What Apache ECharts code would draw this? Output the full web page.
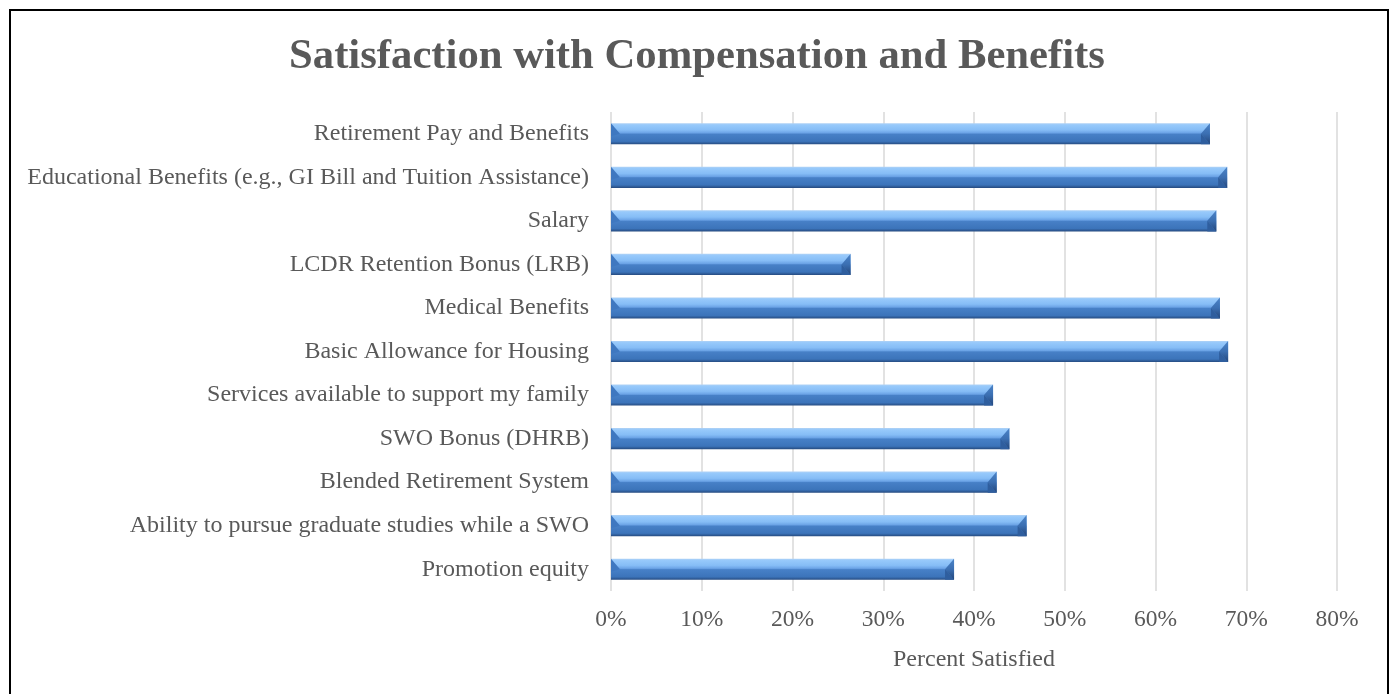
<!DOCTYPE html>
<html>
<head>
<meta charset="utf-8">
<script src="https://cdn.jsdelivr.net/npm/echarts@6/dist/echarts.min.js"></script>
<style>
html,body{margin:0;padding:0;background:#fff;}
#chart{width:1394px;height:694px;}
</style>
</head>
<body>
<div id="chart"></div>
<script>
const categories = [
  "Retirement Pay and Benefits",
  "Educational Benefits (e.g., GI Bill and Tuition Assistance)",
  "Salary",
  "LCDR Retention Bonus (LRB)",
  "Medical Benefits",
  "Basic Allowance for Housing",
  "Services available to support my family",
  "SWO Bonus (DHRB)",
  "Blended Retirement System",
  "Ability to pursue graduate studies while a SWO",
  "Promotion equity"
];
const percentSatisfied = [0.660, 0.679, 0.667, 0.264, 0.671, 0.680, 0.421, 0.439, 0.425, 0.458, 0.378];
const tickValues = [0, 0.1, 0.2, 0.3, 0.4, 0.5, 0.6, 0.7, 0.8];

const chart = echarts.init(document.getElementById('chart'), null, {renderer: 'canvas'});
const serif = '"Liberation Serif", "Times New Roman", serif';

const barFill = new echarts.graphic.LinearGradient(0, 0, 0, 1, [
  {offset: 0, color: '#B0D2F5'},
  {offset: 0.08, color: '#97C9FB'},
  {offset: 0.32, color: '#86BDF6'},
  {offset: 0.46, color: '#6BA3E6'},
  {offset: 0.52, color: '#4780C7'},
  {offset: 0.86, color: '#3C74BA'},
  {offset: 1, color: '#264B80'}
]);

function renderBar(params, api) {
  const val = api.value(1);
  const idx = api.value(0);
  const p0 = api.coord([0, idx]);
  const p1 = api.coord([val, idx]);
  const bandH = api.size([0, 1])[1];
  const h = bandH * 0.485;
  const x0 = p0[0], x1 = p1[0];
  const y0 = p0[1] - h / 2, y1 = p0[1] + h / 2;
  const bev = 9;
  return {
    type: 'group',
    children: [
      {type: 'rect', shape: {x: x0, y: y0, width: x1 - x0, height: h}, style: {fill: barFill}},
      {type: 'polygon', shape: {points: [[x1, y0], [x1, y1], [x1 - bev, y0 + h * 0.5]]},
        style: {fill: new echarts.graphic.LinearGradient(0, 0, 0, 1, [
          {offset: 0, color: '#4C84C8'}, {offset: 0.5, color: '#3B6FB2'}, {offset: 1, color: '#24467A'}])}},
      {type: 'polygon', shape: {points: [[x1 - bev, y0 + h * 0.5], [x1, y1], [x1 - bev, y1]]},
        style: {fill: '#2F5E9E'}},
      {type: 'polygon', shape: {points: [[x0, y0], [x0 + bev, y0 + h * 0.5], [x0, y0 + h * 0.62]]},
        style: {fill: '#3F78C0'}}
    ]
  };
}

chart.setOption({
  animation: false,
  backgroundColor: '#ffffff',
  title: {
    text: 'Satisfaction with Compensation and Benefits',
    left: 'center',
    top: 30,
    textStyle: {fontFamily: serif, fontWeight: 'bold', fontSize: 42.7, color: '#595959'}
  },
  graphic: [{
    type: 'rect', silent: true, z: 100,
    shape: {x: 10, y: 10, width: 1378, height: 700},
    style: {fill: 'none', stroke: '#000000', lineWidth: 2}
  }],
  grid: {left: 611, right: 57, top: 112, bottom: 103, containLabel: false},
  xAxis: {
    type: 'value',
    min: 0, max: 0.8, interval: 0.1,
    name: 'Percent Satisfied',
    nameLocation: 'middle',
    nameGap: 57,
    nameTextStyle: {fontFamily: serif, fontSize: 24, color: '#595959'},
    axisLine: {show: false},
    axisTick: {show: false},
    axisLabel: {
      margin: 17,
      fontFamily: serif, fontSize: 23.5, color: '#595959',
      formatter: v => Math.round(v * 100) + '%'
    },
    splitLine: {show: true, lineStyle: {color: '#D9D9D9', width: 1.5}}
  },
  yAxis: {
    type: 'category',
    data: categories,
    inverse: true,
    axisLine: {show: false},
    axisTick: {show: false},
    axisLabel: {margin: 22, fontFamily: serif, fontSize: 24, color: '#595959'}
  },
  series: [{
    type: 'custom',
    renderItem: renderBar,
    encode: {x: 1, y: 0},
    data: percentSatisfied.map((v, i) => [i, v])
  }]
});
</script>
</body>
</html>
